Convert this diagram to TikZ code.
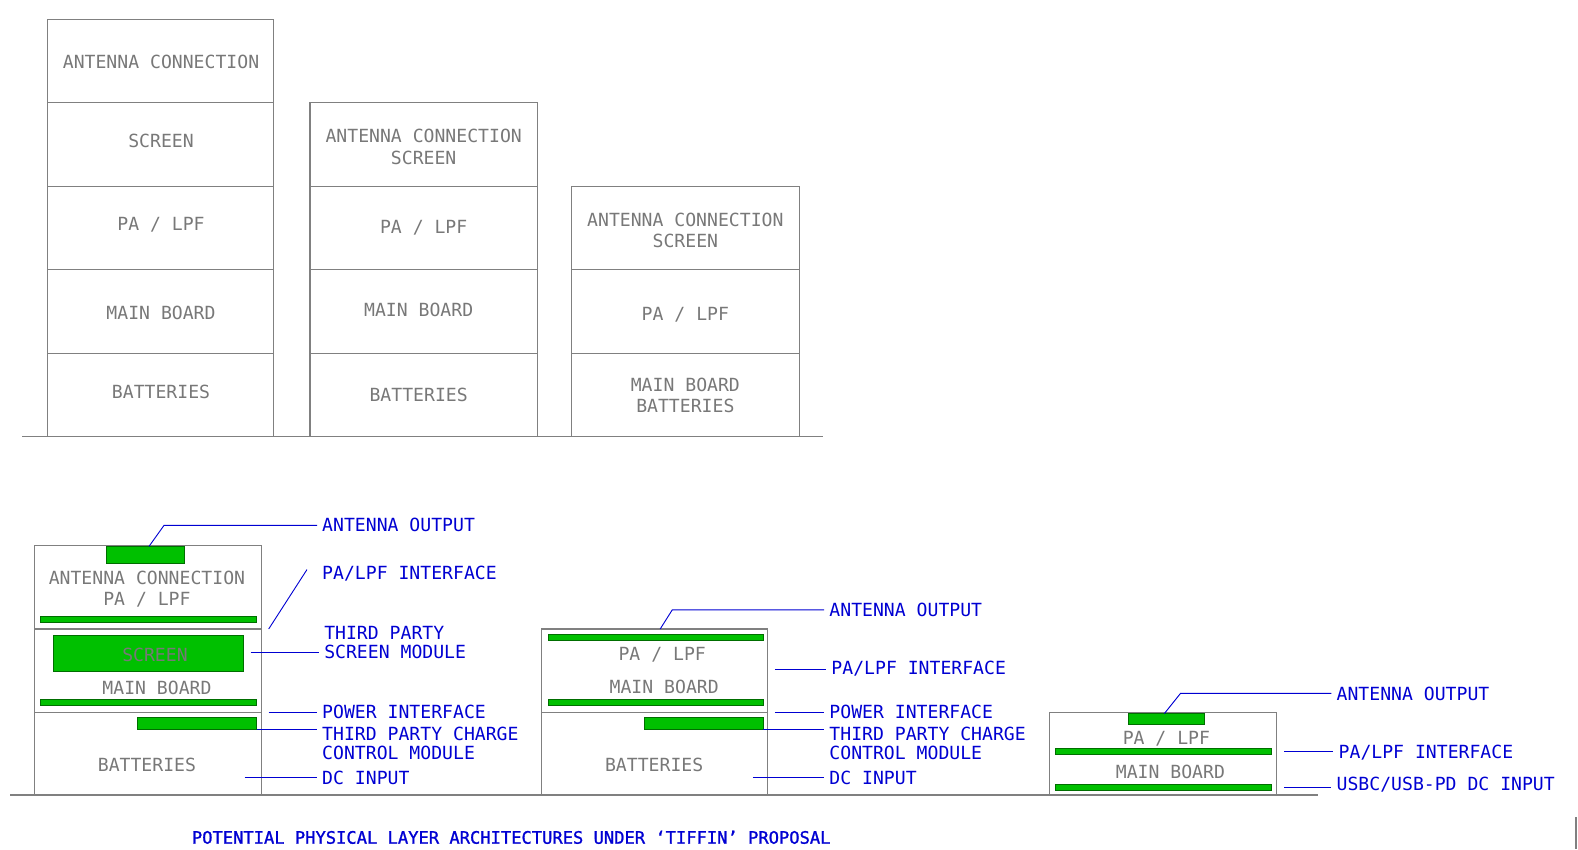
\documentclass[tikz,border=0pt]{standalone}
\usepackage{fontspec}
\setmainfont{DejaVu Sans Mono}
\newfontfamily\titlefont[FakeBold=1.2]{DejaVu Sans Mono}
\definecolor{txtgray}{RGB}{120,120,120}
\definecolor{linegray}{RGB}{128,128,128}
\definecolor{lblblue}{RGB}{0,0,210}
\definecolor{grn}{RGB}{0,192,0}
\definecolor{grnedge}{RGB}{0,110,0}
\begin{document}
\begin{tikzpicture}[x=1pt,y=-1pt,
  cell/.style={draw=linegray, line width=1.1pt, inner sep=0pt, outer sep=0pt, anchor=north west},
  gtxt/.style={text=txtgray, font=\fontsize{18}{21.5}\selectfont, align=center, inner sep=0pt},
  lbl/.style={text=lblblue, font=\fontsize{18}{19.5}\selectfont, align=left, anchor=west, inner xsep=5pt, inner ysep=0pt},
  lead/.style={draw=lblblue, line width=0.9pt},
  pad/.style={draw=grnedge, fill=grn, line width=0.6pt, inner sep=0pt, outer sep=0pt, anchor=north west},
  ground/.style={draw=linegray, line width=1.1pt}]
\useasboundingbox (0,0) rectangle (1568,844);
% ---------- top stacks ----------
\node[cell, minimum width=225pt, minimum height=83pt] (s1a) at (47,19) {};
\node[cell, minimum width=225pt, minimum height=83pt] (s1b) at (47,102) {};
\node[cell, minimum width=225pt, minimum height=83pt] (s1c) at (47,185) {};
\node[cell, minimum width=225pt, minimum height=83pt] (s1d) at (47,268) {};
\node[cell, minimum width=225pt, minimum height=83pt] (s1e) at (47,351) {};
\node[gtxt] (s1at) at (160,62) {ANTENNA CONNECTION};
\node[gtxt] (s1bt) at (160,140) {SCREEN};
\node[gtxt] (s1ct) at (160,223) {PA / LPF};
\node[gtxt] (s1dt) at (160,311) {MAIN BOARD};
\node[gtxt] (s1et) at (160,389) {BATTERIES};

\node[cell, minimum width=226pt, minimum height=83pt] (s2a) at (308,102) {};
\node[cell, minimum width=226pt, minimum height=83pt] (s2b) at (308,185) {};
\node[cell, minimum width=226pt, minimum height=83pt] (s2c) at (308,268) {};
\node[cell, minimum width=226pt, minimum height=83pt] (s2d) at (308,351) {};
\node[gtxt] (s2at) at (421,146) {ANTENNA CONNECTION\\SCREEN};
\node[gtxt] (s2bt) at (421,226) {PA / LPF};
\node[gtxt] (s2ct) at (416,308) {MAIN BOARD};
\node[gtxt] (s2dt) at (416,392) {BATTERIES};

\node[cell, minimum width=226pt, minimum height=83pt] (s3a) at (568,185) {};
\node[cell, minimum width=226pt, minimum height=83pt] (s3b) at (568,268) {};
\node[cell, minimum width=226pt, minimum height=83pt] (s3c) at (568,351) {};
\node[gtxt] (s3at) at (681,229) {ANTENNA CONNECTION\\SCREEN};
\node[gtxt] (s3bt) at (681,313) {PA / LPF};
\node[gtxt] (s3ct) at (681,393) {MAIN BOARD\\BATTERIES};

\coordinate (g1a) at (22,434);
\coordinate (g1b) at (818,434);
\draw[ground] (g1a) -- (g1b);

% ---------- bottom stack 1 ----------
\node[cell, minimum width=226pt, minimum height=83pt] (b1a) at (34,542) {};
\node[cell, minimum width=226pt, minimum height=83pt] (b1b) at (34,625) {};
\node[cell, minimum width=226pt, minimum height=82pt] (b1c) at (34,708) {};
\node[pad, minimum width=77pt, minimum height=17pt] (p1a) at (106,542.5) {};
\node[gtxt] (b1at) at (146,585.5) {ANTENNA CONNECTION\\PA / LPF};
\node[pad, minimum width=215pt, minimum height=6pt] (p1b) at (40,612) {};
\node[pad, minimum width=189pt, minimum height=36pt] (p1c) at (53,631) {};
\node[gtxt] (p1ct) at (154,651) {SCREEN};
\node[gtxt] (b1bt) at (156,684) {MAIN BOARD};
\node[pad, minimum width=215pt, minimum height=6pt] (p1d) at (40,695) {};
\node[pad, minimum width=119pt, minimum height=12pt] (p1e) at (136,713) {};
\node[gtxt] (b1ct) at (146,760) {BATTERIES};

\node[lbl] (L1a) at (315,522) {ANTENNA OUTPUT};
\node[lbl] (L1b) at (315,570) {PA/LPF INTERFACE};
\node[lbl] (L1c) at (317,638.5) {THIRD PARTY\\SCREEN MODULE};
\node[lbl] (L1d) at (315,707) {POWER INTERFACE};
\node[lbl] (L1e) at (315,738.5) {THIRD PARTY CHARGE\\CONTROL MODULE};
\node[lbl] (L1f) at (315,773) {DC INPUT};

\coordinate (c1a) at (148,543);
\coordinate (c1b) at (163,522);
\coordinate (c1c) at (267,625);
\coordinate (c1d) at (305,566);
\coordinate (c1e) at (249,648);
\coordinate (c1f) at (243,773);
\draw[lead] (c1a) -- (c1b) -- (L1a.west);
\draw[lead] (c1c) -- (c1d);
\draw[lead] (c1e) -- (L1c.west |- c1e);
\draw[lead] ([xshift=7pt]b1b.south east) -- (L1d.west |- b1b.south east);
\draw[lead] (p1e.south east) -- (L1e.west |- p1e.south east);
\draw[lead] (c1f) -- (L1f.west);

% ---------- bottom stack 2 ----------
\node[cell, minimum width=225pt, minimum height=83pt] (b2a) at (538,625) {};
\node[cell, minimum width=225pt, minimum height=82pt] (b2b) at (538,708) {};
\node[pad, minimum width=213pt, minimum height=6pt] (p2a) at (545,630) {};
\node[gtxt] (b2at) at (658,651) {PA / LPF};
\node[gtxt] (b2bt) at (660,683) {MAIN BOARD};
\node[pad, minimum width=213pt, minimum height=6pt] (p2b) at (545,695) {};
\node[pad, minimum width=118pt, minimum height=12pt] (p2c) at (640,713) {};
\node[gtxt] (b2ct) at (650,760) {BATTERIES};

\node[lbl] (L2a) at (819,606) {ANTENNA OUTPUT};
\node[lbl] (L2b) at (821,664) {PA/LPF INTERFACE};
\node[lbl] (L2c) at (819,707) {POWER INTERFACE};
\node[lbl] (L2d) at (819,738.5) {THIRD PARTY CHARGE\\CONTROL MODULE};
\node[lbl] (L2e) at (819,773) {DC INPUT};

\coordinate (c2a) at (656,625);
\coordinate (c2b) at (668,606);
\coordinate (c2c) at (770,665);
\coordinate (c2d) at (748,773);
\draw[lead] (c2a) -- (c2b) -- (L2a.west);
\draw[lead] (c2c) -- (L2b.west |- c2c);
\draw[lead] ([xshift=7pt]b2a.south east) -- (L2c.west |- b2a.south east);
\draw[lead] (p2c.south east) -- (L2d.west |- p2c.south east);
\draw[lead] (c2d) -- (L2e.west);

% ---------- bottom stack 3 ----------
\node[cell, minimum width=225pt, minimum height=82pt] (b3a) at (1043,708) {};
\node[pad, minimum width=76pt, minimum height=11pt] (p3a) at (1121,708.5) {};
\node[gtxt] (b3at) at (1159,734) {PA / LPF};
\node[pad, minimum width=214pt, minimum height=6pt] (p3b) at (1049,744) {};
\node[gtxt] (b3bt) at (1163,767) {MAIN BOARD};
\node[pad, minimum width=214pt, minimum height=6pt] (p3c) at (1049,779) {};

\node[lbl] (L3a) at (1323,689) {ANTENNA OUTPUT};
\node[lbl] (L3b) at (1325,748) {PA/LPF INTERFACE};
\node[lbl] (L3c) at (1323,780) {USBC/USB-PD DC INPUT};

\coordinate (c3a) at (1157,709);
\coordinate (c3b) at (1173,689);
\coordinate (c3c) at (1276,747);
\coordinate (c3d) at (1276,782);
\draw[lead] (c3a) -- (c3b) -- (L3a.west);
\draw[lead] (c3c) -- (L3b.west |- c3c);
\draw[lead] (c3d) -- (L3c.west |- c3d);

\coordinate (g2a) at (10,790);
\coordinate (g2b) at (1310,790);
\draw[ground] (g2a) -- (g2b);

\coordinate (e1) at (1566,812);
\coordinate (e2) at (1566,844);
\draw[ground] (e1) -- (e2);

% ---------- title ----------
\node[text=lblblue, font=\titlefont\fontsize{17}{18}\selectfont, inner sep=0pt] (title) at (508,832) {POTENTIAL PHYSICAL LAYER ARCHITECTURES UNDER ‘TIFFIN’ PROPOSAL};
\end{tikzpicture}
\end{document}
